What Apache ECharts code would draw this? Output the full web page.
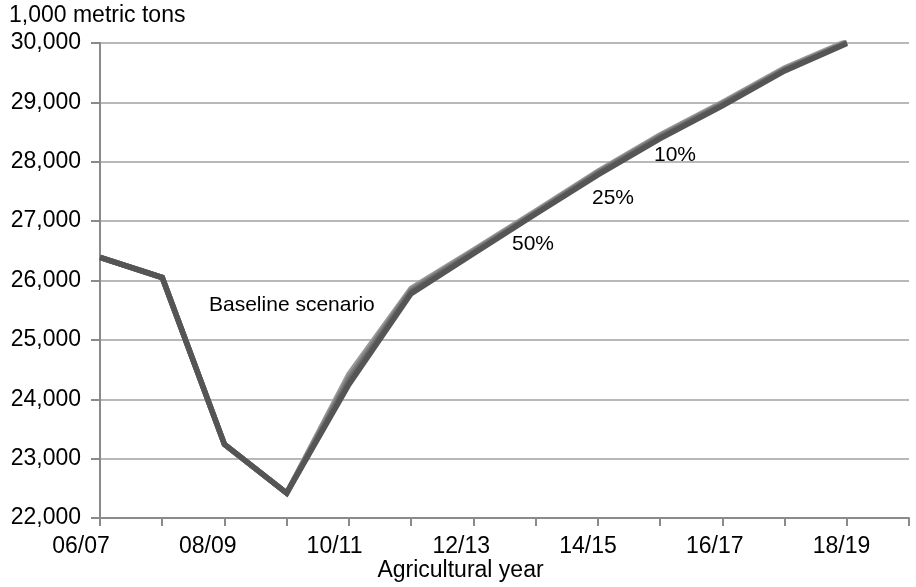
<!DOCTYPE html>
<html>
<head>
<meta charset="utf-8">
<script src="https://cdn.jsdelivr.net/npm/echarts@6/dist/echarts.min.js"></script>
<style>
html,body{margin:0;padding:0;background:#fff;}
#chart{width:916px;height:587px;}
</style>
</head>
<body>
<div id="chart"></div>
<script>
// ---- data ----
var categories = ['06/07','07/08','08/09','09/10','10/11','11/12','12/13','13/14','14/15','15/16','16/17','17/18','18/19','19/20'];
var baseline   = [26390, 26050, 23240, 22420, 24250, 25780, 26450, 27120, 27780, 28390, 28940, 29530, 29990, null];
var scen10     = [26390, 26050, 23240, 22420, 24420, 25870, 26510, 27170, 27840, 28450, 29000, 29580, 30030, null];
var scen25     = [26390, 26050, 23240, 22420, 24360, 25840, 26490, 27150, 27820, 28430, 28980, 29560, 30010, null];
var scen50     = [26390, 26050, 23240, 22420, 24300, 25810, 26470, 27130, 27800, 28410, 28960, 29545, 30000, null];
var yTicks = { min: 22000, max: 30000, interval: 1000 };
var yAxisTitle = '1,000 metric tons';
var xAxisTitle = 'Agricultural year';
var annotations = ['Baseline scenario', '10%', '25%', '50%'];

// ---- chart ----
var FONT = '"Liberation Sans", Arial, Helvetica, sans-serif';
var chart = echarts.init(document.getElementById('chart'));

var rich = {};
for (var k = 0; k < categories.length; k++) {
  var shift = 19 - 2.3 * (k / 2);
  rich['s' + k] = { fontFamily: FONT, fontSize: 23, color: '#000', padding: [0, Math.max(0, 2 * shift), 0, 0] };
}

function fmtNum(v) { return String(v).replace(/\B(?=(\d{3})+(?!\d))/g, ','); }

function lineSeries(name, data, color, z) {
  return {
    name: name, type: 'line', data: data, symbol: 'none', z: z,
    lineStyle: { color: color, width: 5.5, join: 'miter' },
    clip: true, animation: false
  };
}

chart.setOption({
  animation: false,
  backgroundColor: '#ffffff',
  grid: { left: 100, right: 7, top: 43, bottom: 69, containLabel: false },
  xAxis: {
    type: 'category', data: categories, boundaryGap: false,
    axisLine: { lineStyle: { color: '#8a8a8a', width: 2 } },
    axisTick: { show: true, interval: 0, length: 8, lineStyle: { color: '#8a8a8a', width: 2 } },
    axisLabel: {
      interval: 1, margin: 17, fontFamily: FONT, fontSize: 23, color: '#000',
      formatter: function (v, i) { return '{s' + i + '|' + v + '}'; },
      rich: rich
    },
    splitLine: { show: false }
  },
  yAxis: {
    type: 'value', min: yTicks.min, max: yTicks.max, interval: yTicks.interval,
    axisLine: { show: true, lineStyle: { color: '#8a8a8a', width: 2 } },
    axisTick: { show: true, length: 9, lineStyle: { color: '#8a8a8a', width: 2 } },
    axisLabel: { margin: 19, fontFamily: FONT, fontSize: 23, color: '#000', formatter: fmtNum, padding: [5, 0, 0, 0] },
    splitLine: { show: true, lineStyle: { color: '#a0a0a0', width: 1.5 } }
  },
  series: [
    lineSeries('10%', scen10, '#9a9a9a', 2),
    lineSeries('25%', scen25, '#808080', 3),
    lineSeries('50%', scen50, '#6a6a6a', 4),
    lineSeries('Baseline scenario', baseline, '#555555', 5)
  ],
  graphic: [
    { type: 'text', left: 9, top: 4, style: { text: yAxisTitle, font: '23px ' + FONT, fill: '#000' } },
    { type: 'text', x: 460.5, y: 571, style: { text: xAxisTitle, font: '23px ' + FONT, fill: '#000', align: 'center', verticalAlign: 'middle' } },
    { type: 'text', x: 209, y: 305, style: { text: annotations[0], font: '21px ' + FONT, fill: '#000', align: 'left', verticalAlign: 'middle' } },
    { type: 'text', x: 654, y: 155, style: { text: annotations[1], font: '21px ' + FONT, fill: '#000', align: 'left', verticalAlign: 'middle' } },
    { type: 'text', x: 592, y: 198, style: { text: annotations[2], font: '21px ' + FONT, fill: '#000', align: 'left', verticalAlign: 'middle' } },
    { type: 'text', x: 512, y: 244, style: { text: annotations[3], font: '21px ' + FONT, fill: '#000', align: 'left', verticalAlign: 'middle' } }
  ]
});
</script>
</body>
</html>
